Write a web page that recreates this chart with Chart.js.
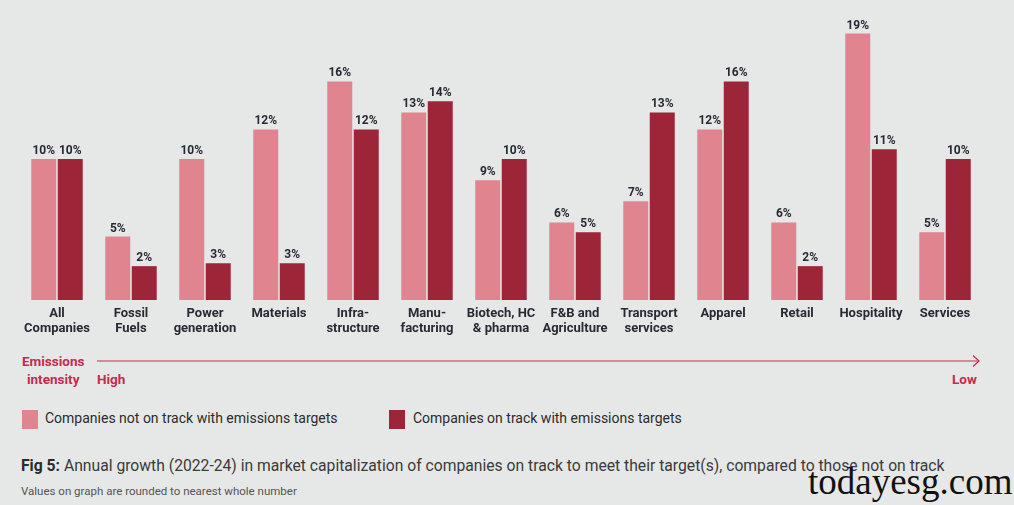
<!DOCTYPE html>
<html>
<head>
<meta charset="utf-8">
<script src="https://cdn.jsdelivr.net/npm/chart.js@4"></script>
<style>
  html, body { margin:0; padding:0; }
  body { width:1014px; height:505px; background:#E6E8E7; position:relative; overflow:hidden; font-family: Roboto, "Noto Sans", sans-serif; }
  #wrap { position:absolute; left:0; top:0; width:1014px; height:345px; }
  .abs { position:absolute; white-space:nowrap; }
  .crim { color:#C8294F; font-weight:bold; font-size:13.5px; }
  .leg { font-size:14px; color:#2b2b2b; }
  .sw { position:absolute; width:16px; height:19px; }
</style>
</head>
<body>
<div id="wrap"><canvas id="c" width="1014" height="345"></canvas></div>

<div class="abs crim" style="left:22px; top:352px; line-height:18px; text-align:center;">Emissions<br>intensity</div>
<svg class="abs" style="left:95px; top:354px;" width="890" height="16">
  <line x1="2" y1="7" x2="884" y2="7" stroke="#C8294F" stroke-width="1.2"/>
  <polyline points="878,1.5 884,7 878,12.5" fill="none" stroke="#C8294F" stroke-width="1.2"/>
</svg>
<div class="abs crim" style="left:97px; top:371px;">High</div>
<div class="abs crim" style="left:952px; top:371px;">Low</div>

<div class="sw" style="left:22px; top:410px; background:#E0848F;"></div>
<div class="abs leg" style="left:45px; top:410px;">Companies not on track with emissions targets</div>
<div class="sw" style="left:389px; top:410px; background:#9C2538;"></div>
<div class="abs leg" style="left:413px; top:410px;">Companies on track with emissions targets</div>

<div class="abs" style="left:21px; top:456px; font-size:15.7px; color:#3a3a3a;"><b style="color:#2a2a2a;">Fig 5:</b> Annual growth (2022-24) in market capitalization of companies on track to meet their target(s), compared to those not on track</div>
<div class="abs" style="left:21px; top:484px; font-size:11.5px; color:#555;">Values on graph are rounded to nearest whole number</div>

<div class="abs" style="left:808px; top:462px; font-family:'Liberation Serif','DejaVu Serif',serif; font-size:37px; color:#111; line-height:40px;">todayesg.com</div>

<script>
const categories = [
  ["All","Companies"], ["Fossil","Fuels"], ["Power","generation"], ["Materials"],
  ["Infra-","structure"], ["Manu-","facturing"], ["Biotech, HC","& pharma"], ["F&B and","Agriculture"],
  ["Transport","services"], ["Apparel"], ["Retail"], ["Hospitality"], ["Services"]
];
const notOnTrack = [10.0, 4.5, 10.0, 12.1, 15.5, 13.3, 8.5, 5.5, 7.0, 12.1, 5.5, 18.9, 4.8];
const onTrack    = [10.0, 2.4, 2.6, 2.6, 12.1, 14.1, 10.0, 4.8, 13.3, 15.5, 2.4, 10.7, 10.0];
const seriesNames = ["Companies not on track with emissions targets", "Companies on track with emissions targets"];

const valueLabels = {
  id: 'valueLabels',
  afterDatasetsDraw(chart) {
    const ctx = chart.ctx;
    ctx.save();
    ctx.font = 'bold 12px Roboto, "Noto Sans", sans-serif';
    ctx.fillStyle = '#262A33';
    ctx.textAlign = 'center';
    ctx.textBaseline = 'alphabetic';
    chart.data.datasets.forEach((ds, i) => {
      chart.getDatasetMeta(i).data.forEach((bar, j) => {
        ctx.fillText(Math.round(ds.data[j]) + '%', bar.x, bar.y - 5);
      });
    });
    ctx.restore();
  }
};

new Chart(document.getElementById('c'), {
  type: 'bar',
  data: {
    labels: categories,
    datasets: [
      { label: seriesNames[0], data: notOnTrack, backgroundColor: '#E0848F' },
      { label: seriesNames[1], data: onTrack, backgroundColor: '#9C2538' }
    ]
  },
  options: {
    responsive: false,
    animation: false,
    events: [],
    layout: { padding: { left: 20, right: 32, top: 18, bottom: 0 } },
    categoryPercentage: 0.716,
    barPercentage: 0.943,
    plugins: { legend: { display: false }, tooltip: { enabled: false } },
    scales: {
      x: {
        grid: { display: false },
        border: { display: false },
        ticks: {
          color: '#262A33',
          font: { family: 'Roboto, "Noto Sans", sans-serif', size: 13, weight: 'bold', lineHeight: 1.15 },
          padding: -2,
          maxRotation: 0,
          autoSkip: false
        },
        afterFit(scale) { scale.height = 45; }
      },
      y: {
        display: false,
        min: 0,
        max: 20
      }
    }
  },
  plugins: [valueLabels]
});
</script>
</body>
</html>
